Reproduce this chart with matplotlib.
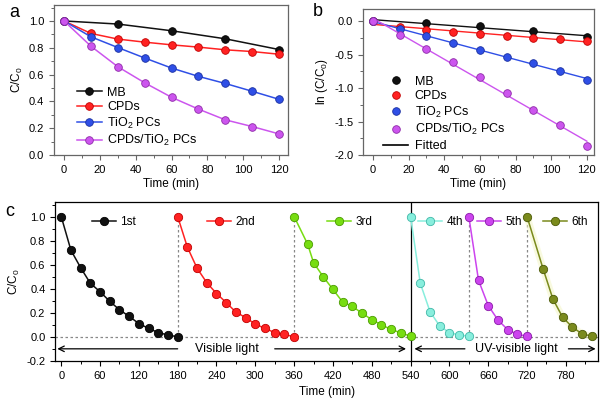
import numpy as np
import matplotlib
matplotlib.use("Agg")
import matplotlib.pyplot as plt
from matplotlib.ticker import MultipleLocator, FormatStrFormatter
from matplotlib.lines import Line2D
from matplotlib.legend import Legend

plt.rcParams['font.family'] = ['Liberation Sans', 'DejaVu Sans']
plt.rcParams['mathtext.fontset'] = 'custom'
plt.rcParams['mathtext.rm'] = 'Liberation Sans'
plt.rcParams['mathtext.it'] = 'Liberation Sans'

# ---- panel a: C/C0 vs time ----
t_mb = [0, 30, 60, 90, 120]
t_all = [0, 15, 30, 45, 60, 75, 90, 105, 120]
a_mb = [1.0, 0.977, 0.927, 0.867, 0.787]
a_cpd = [1.0, 0.907, 0.865, 0.842, 0.822, 0.805, 0.785, 0.772, 0.752]
a_tio2 = [1.0, 0.882, 0.802, 0.724, 0.649, 0.587, 0.534, 0.476, 0.416]
a_comp = [1.0, 0.812, 0.659, 0.539, 0.431, 0.343, 0.263, 0.213, 0.158]

# ---- panel b: ln(C/C0) ----
b_mb = [0.0, -0.03, -0.08, -0.15, -0.24]
b_cpd = [0.0, -0.095, -0.14, -0.17, -0.195, -0.22, -0.25, -0.265, -0.295]
b_tio2 = [0.0, -0.125, -0.23, -0.325, -0.434, -0.539, -0.628, -0.743, -0.878]
b_comp = [0.0, -0.21, -0.414, -0.613, -0.838, -1.072, -1.327, -1.551, -1.86]

names = ['MB', 'CPDs', 'TiO$_2$ PCs', 'CPDs/TiO$_2$ PCs']
cols = ['#111111', '#ff2222', '#2f4fe6', '#cc55ee']
edges = ['#000000', '#c00000', '#1a2fa0', '#8e2aa8']

# ---- panel c: cycling ----
c_t1 = [0, 15, 30, 45, 60, 75, 90, 105, 120, 135, 150, 165, 180]
c_v1 = [1.0, 0.72, 0.575, 0.445, 0.375, 0.295, 0.225, 0.17, 0.11, 0.07, 0.035, 0.015, 0.0]
c_t2 = [180, 195, 210, 225, 240, 255, 270, 285, 300, 315, 330, 345, 360]
c_v2 = [1.0, 0.745, 0.57, 0.45, 0.36, 0.285, 0.205, 0.16, 0.105, 0.07, 0.035, 0.02, 0.0]
c_t3 = [360, 381, 390, 405, 420, 435, 450, 465, 480, 495, 510, 525, 540]
c_v3 = [1.0, 0.769, 0.617, 0.499, 0.394, 0.289, 0.253, 0.196, 0.143, 0.099, 0.061, 0.033, 0.005]
c_t4 = [540, 555, 570, 585, 600, 615, 630]
c_v4 = [1.0, 0.445, 0.21, 0.09, 0.035, 0.015, 0.005]
c_t5 = [630, 645, 660, 675, 690, 705, 720]
c_v5 = [1.0, 0.47, 0.26, 0.14, 0.06, 0.02, 0.005]
c_t6 = [720, 745, 760, 775, 790, 805, 820]
c_v6 = [1.0, 0.562, 0.314, 0.163, 0.08, 0.025, 0.005]
cyc_labels = ['1st', '2nd', '3rd', '4th', '5th', '6th']
cyc_cols = ['#111111', '#ff2222', '#77dd11', '#88eedd', '#cc44ee', '#7a8a1c']
cyc_edges = ['#000000', '#c00000', '#4a9a00', '#40b8a8', '#8a1aa8', '#4c5a08']

fig = plt.figure(figsize=(6, 4.05), dpi=100)
fs = 8
frame_col = '#666666'


def style(ax, col):
    for s in ax.spines.values():
        s.set_color(col)
        s.set_linewidth(0.9)
    ax.tick_params(which='both', direction='out', labelsize=fs, colors=col,
                   labelcolor='black')
    ax.tick_params(which='major', length=3.5, width=0.8)
    ax.tick_params(which='minor', length=2, width=0.7)


# panel a
ax_a = fig.add_axes([0.09, 0.617, 0.39, 0.371])
series_a = [(t_mb, a_mb), (t_all, a_cpd), (t_all, a_tio2), (t_all, a_comp)]
for (tt, vv), n, c, e in zip(series_a, names, cols, edges):
    ax_a.plot(tt, vv, '-o', color=c, mec=e, mew=0.6, ms=5.5, lw=1.1, label=n)
ax_a.set_xlim(-5.6, 125)
ax_a.set_ylim(0, 1.12)
ax_a.xaxis.set_major_locator(MultipleLocator(20))
ax_a.xaxis.set_minor_locator(MultipleLocator(10))
ax_a.yaxis.set_major_locator(MultipleLocator(0.2))
ax_a.yaxis.set_minor_locator(MultipleLocator(0.1))
ax_a.yaxis.set_major_formatter(FormatStrFormatter('%.1f'))
ax_a.set_xlabel('Time (min)', fontsize=8.5, labelpad=2)
ax_a.set_ylabel('C/C$_0$', fontsize=8.5, labelpad=3)
ax_a.legend(loc='lower left', bbox_to_anchor=(0.05, -0.03), frameon=False,
            fontsize=9, handlelength=2.0, handletextpad=0.4, labelspacing=0.2)
style(ax_a, frame_col)

# panel b
ax_b = fig.add_axes([0.605, 0.617, 0.385, 0.361])
series_b = [(t_mb, b_mb), (t_all, b_cpd), (t_all, b_tio2), (t_all, b_comp)]
handles = []
for (tt, vv), n, c, e in zip(series_b, names, cols, edges):
    k, b0 = np.polyfit(tt, vv, 1)
    xx = np.array([0, 120])
    ax_b.plot(xx, k * xx + b0, '-', color=c, lw=1.0)
    ax_b.plot(tt, vv, 'o', color=c, mec=e, mew=0.6, ms=5.5)
    handles.append(Line2D([], [], ls='none', marker='o', color=c, mec=e,
                          mew=0.6, ms=5.5, label=n))
handles.append(Line2D([], [], color='black', lw=1.2, label='Fitted'))
ax_b.set_xlim(-5.6, 124)
ax_b.set_ylim(-2.0, 0.18)
ax_b.xaxis.set_major_locator(MultipleLocator(20))
ax_b.xaxis.set_minor_locator(MultipleLocator(10))
ax_b.yaxis.set_major_locator(MultipleLocator(0.5))
ax_b.yaxis.set_minor_locator(MultipleLocator(0.25))
ax_b.yaxis.set_major_formatter(FormatStrFormatter('%.1f'))
ax_b.set_xlabel('Time (min)', fontsize=8.5, labelpad=2)
ax_b.set_ylabel('ln (C/C$_0$)', fontsize=8.5, labelpad=3)
ax_b.legend(handles=handles, loc='lower left', bbox_to_anchor=(0.04, -0.055),
            frameon=False, fontsize=9, handlelength=2.0, handletextpad=0.5,
            labelspacing=0.2)
style(ax_b, frame_col)

# panel c
ax_c = fig.add_axes([0.092, 0.109, 0.905, 0.392])
ax_c.axhline(0, color='#888888', ls=(0, (2, 2)), lw=0.9, zorder=1)
for xv in [180, 360, 630, 720]:
    ax_c.plot([xv, xv], [0, 1.0], color='#888888', ls=(0, (2, 2)), lw=0.9, zorder=1)
ax_c.axvline(540, color='black', lw=0.9, zorder=1)
cyc = [(c_t1, c_v1), (c_t2, c_v2), (c_t3, c_v3), (c_t4, c_v4), (c_t5, c_v5), (c_t6, c_v6)]
leg_x = [92, 207, 327, 418, 477, 543]
for i, ((tt, vv), lab, c, e) in enumerate(zip(cyc, cyc_labels, cyc_cols, cyc_edges)):
    if i == 5:
        ax_c.plot(tt, vv, '-', color='#f2f5c0', lw=5, alpha=0.5, zorder=2,
                  solid_capstyle='round')
    ln, = ax_c.plot(tt, vv, '-o', color=c, mec=e, mew=0.6, ms=6, lw=1.1,
                    zorder=3, label=lab)
    lg = Legend(ax_c, [ln], [lab], loc='center left',
                bbox_to_anchor=((leg_x[i] - 55) / 543.0, 0.874),
                frameon=False, fontsize=8.5, handlelength=2.0,
                handletextpad=0.4, borderpad=0, borderaxespad=0)
    ax_c.add_artist(lg)

arr = dict(arrowstyle='->', color='black', lw=0.9, shrinkA=0, shrinkB=0)
ax_c.annotate('', xy=(-6, -0.1), xytext=(180, -0.1), arrowprops=arr)
ax_c.annotate('', xy=(533, -0.1), xytext=(330, -0.1), arrowprops=arr)
ax_c.text(256, -0.1, 'Visible light', ha='center', va='center', fontsize=9)
ax_c.annotate('', xy=(546, -0.1), xytext=(624, -0.1), arrowprops=arr)
ax_c.annotate('', xy=(826, -0.1), xytext=(784, -0.1), arrowprops=arr)
ax_c.text(704, -0.1, 'UV-visible light', ha='center', va='center', fontsize=9)

ax_c.set_xlim(-9.3, 830)
ax_c.set_ylim(-0.2, 1.12)
ax_c.xaxis.set_major_locator(MultipleLocator(60))
ax_c.xaxis.set_minor_locator(MultipleLocator(30))
ax_c.yaxis.set_major_locator(MultipleLocator(0.2))
ax_c.yaxis.set_minor_locator(MultipleLocator(0.1))
ax_c.yaxis.set_major_formatter(FormatStrFormatter('%.1f'))
ax_c.set_xlabel('Time (min)', fontsize=8.5, labelpad=4)
ax_c.set_ylabel('C/C$_0$', fontsize=8.5, labelpad=3)
style(ax_c, 'black')

fig.text(0.015, 0.968, 'a', fontsize=13, va='center')
fig.text(0.522, 0.972, 'b', fontsize=13, va='center')
fig.text(0.008, 0.477, 'c', fontsize=13, va='center')

fig.savefig('out.png', dpi=100)
